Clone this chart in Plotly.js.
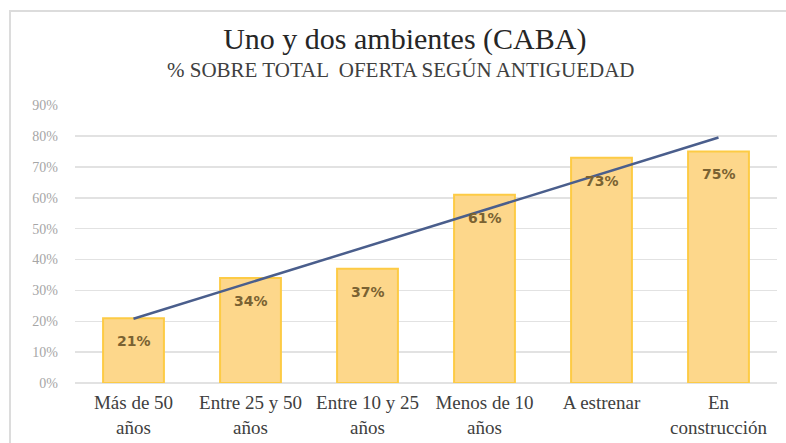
<!DOCTYPE html>
<html>
<head>
<meta charset="utf-8">
<script src="https://cdn.plot.ly/plotly-3.0.1.min.js"></script>
<style>
html,body{margin:0;padding:0;background:#fff;}
#chart{width:786px;height:443px;}
#frame{position:absolute;left:9px;top:10px;width:800px;height:460px;border:2px solid #dcdcdc;pointer-events:none;}
</style>
</head>
<body>
<div id="chart"></div>
<div id="frame"></div>
<script>
const categories = ["Más de 50<br>años", "Entre 25 y 50<br>años", "Entre 10 y 25<br>años", "Menos de 10<br>años", "A estrenar", "En<br>construcción"];
const shares = [0.21, 0.34, 0.37, 0.61, 0.73, 0.75];
const tickVals = [0, 0.1, 0.2, 0.3, 0.4, 0.5, 0.6, 0.7, 0.8, 0.9];
const tickText = ["0%", "10%", "20%", "30%", "40%", "50%", "60%", "70%", "80%", "90%"];
const titleText = "Uno y dos ambientes (CABA)";
const subtitleText = "% SOBRE TOTAL  OFERTA SEGÚN ANTIGUEDAD";

// linear trendline (least squares) over category index
const n = shares.length;
const xs = shares.map((_, i) => i + 1);
const mx = xs.reduce((a, b) => a + b, 0) / n;
const my = shares.reduce((a, b) => a + b, 0) / n;
let sxy = 0, sxx = 0;
for (let i = 0; i < n; i++) { sxy += (xs[i] - mx) * (shares[i] - my); sxx += (xs[i] - mx) ** 2; }
const slope = sxy / sxx;
const trend = xs.map(x => my + slope * (x - mx));

const bars = {
  type: 'bar', x: categories, y: shares,
  marker: { color: '#FDD78B', line: { color: '#FDCB45', width: 2 } },
  hoverinfo: 'skip'
};
const line = {
  type: 'scatter', mode: 'lines', x: categories, y: trend,
  line: { color: '#4A5E8C', width: 2.5 }, hoverinfo: 'skip'
};
const labels = categories.map((c, i) => ({
  x: c, y: shares[i], xref: 'x', yref: 'y', yshift: -23, showarrow: false,
  text: Math.round(shares[i] * 100) + '%',
  font: { family: 'DejaVu Sans', size: 14, color: '#7A6232', weight: 'bold' }
}));
labels.push({
  text: subtitleText, xref: 'paper', yref: 'paper', x: 0.464, y: 1.125,
  xanchor: 'center', yanchor: 'middle', showarrow: false,
  font: { family: 'Liberation Serif', size: 21, color: '#404040' }
});

const layout = {
  width: 786, height: 443,
  margin: { l: 75, r: 9, t: 105, b: 60 },
  paper_bgcolor: '#fff', plot_bgcolor: '#fff',
  showlegend: false, bargap: 0.48,
  title: {
    text: titleText,
    font: { family: 'Liberation Serif', size: 30, color: '#262626' },
    x: 0.515, xanchor: 'center', y: 0.914, yanchor: 'middle'
  },
  xaxis: {
    type: 'category', showgrid: false, showline: false, ticks: '', ticklabelstandoff: 6,
    tickfont: { family: 'Liberation Serif', size: 19, color: '#404040' }
  },
  yaxis: {
    range: [0, 0.9005], tickvals: tickVals, ticktext: tickText,
    showgrid: true, gridcolor: '#e2e2e2', gridwidth: 1.5,
    zeroline: true, zerolinecolor: '#e2e2e2', zerolinewidth: 1.5,
    showline: false, ticks: '', ticklabelstandoff: 16,
    tickfont: { family: 'Liberation Serif', size: 14, color: '#a6a6a6' }
  },
  annotations: labels
};
Plotly.newPlot('chart', [bars, line], layout, { displayModeBar: false, staticPlot: true });
</script>
</body>
</html>
